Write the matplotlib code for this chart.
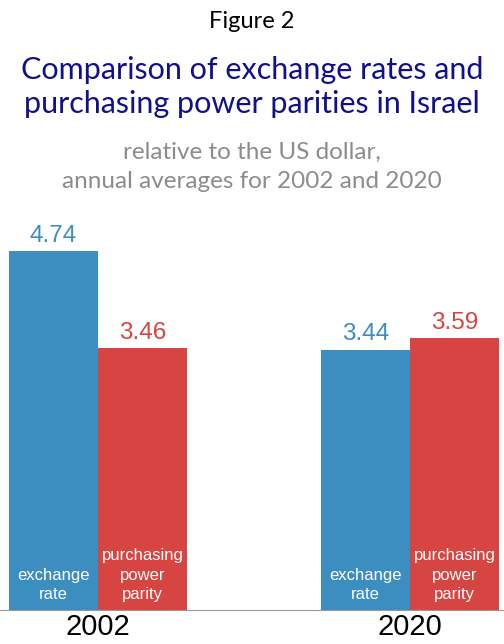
import matplotlib.pyplot as plt
import numpy as np

# Data
years = ['2002', '2020']
exchange_rate = [4.74, 3.44]
ppp = [3.46, 3.59]
series_labels = ['exchange\nrate', 'purchasing\npower\nparity']

blue = '#3d8ec0'
red = '#d64541'

fig = plt.figure(figsize=(5.04, 6.44), dpi=100)

# axes placed so that the baseline sits near the bottom
ax = fig.add_axes([0, (644 - 610) / 644, 1, (610 - 231.5) / 644])

x = np.arange(len(years))
w = 0.285
b1 = ax.bar(x - w / 2, exchange_rate, w, color=blue)
b2 = ax.bar(x + w / 2, ppp, w, color=red)

for bars, vals, col, lab in [(b1, exchange_rate, blue, series_labels[0]),
                             (b2, ppp, red, series_labels[1])]:
    for rect, v in zip(bars, vals):
        cx = rect.get_x() + rect.get_width() / 2
        ax.text(cx, v + 0.06, f'{v:.2f}', ha='center', va='bottom',
                color=col, fontsize=17.5, family='Liberation Sans')
        ax.text(cx, 0.1, lab, ha='center', va='bottom', color='white',
                fontsize=12, family='Liberation Sans', linespacing=1.4)

ax.set_xlim(-98 / 312, (504 - 98) / 312)
ax.set_ylim(0, 5)
for s in ['top', 'right', 'left']:
    ax.spines[s].set_visible(False)
ax.spines['bottom'].set_color('#999999')
ax.set_yticks([])
ax.set_xticks(x)
ax.set_xticklabels(years, fontsize=21, family='Liberation Sans')
ax.tick_params(axis='x', length=0, pad=2)

# Titles
fig.text(0.5, 1 - 22 / 644, 'Figure 2', ha='center', va='center',
         fontsize=17, family='Lato', color='black')
fig.text(0.5, 1 - 87 / 644, 'Comparison of exchange rates and\npurchasing power parities in Israel',
         ha='center', va='center', fontsize=22, family='Lato', color='#10108a',
         linespacing=1.3)
fig.text(0.5, 1 - 167 / 644, 'relative to the US dollar,\nannual averages for 2002 and 2020',
         ha='center', va='center', fontsize=17.5, family='Lato', color='#8c8c8c',
         linespacing=1.5)

plt.savefig('out.png', dpi=100)
